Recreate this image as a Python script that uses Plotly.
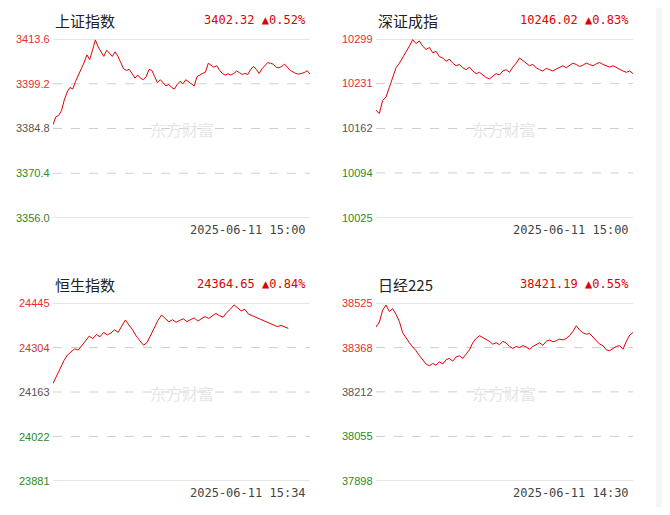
import plotly.graph_objects as go

W, H = 654, 499   # figure size; page body adds an 8px margin
OFF = 8

SH = [3386.0, 3388.5, 3389.0, 3390.5, 3394.0, 3396.5, 3398.0, 3397.5, 3400.0, 3402.0, 3403.5, 3406.0,
      3408.5, 3407.0, 3410.0, 3413.3, 3411.0, 3409.5, 3408.0, 3410.0, 3409.0, 3408.0, 3409.5, 3408.0,
      3406.0, 3404.0, 3403.5, 3403.8, 3402.5, 3401.0, 3402.0, 3401.0, 3400.5, 3401.5, 3403.8, 3403.5,
      3401.5, 3399.5, 3400.5, 3399.5, 3398.5, 3399.0, 3398.0, 3397.5, 3399.0, 3400.0, 3399.2, 3400.5,
      3399.8, 3399.0, 3398.5, 3401.5, 3402.0, 3402.3, 3403.0, 3405.8, 3405.0, 3404.5, 3405.0, 3403.5,
      3402.5, 3402.0, 3402.4, 3402.0, 3402.5, 3403.3, 3402.8, 3402.2, 3402.5, 3402.2, 3403.8, 3404.8,
      3403.8, 3402.5, 3404.0, 3405.0, 3406.0, 3405.8, 3405.5, 3404.5, 3404.3, 3404.8, 3405.5, 3404.5,
      3403.5, 3403.0, 3402.5, 3402.3, 3402.5, 3402.8, 3403.4, 3402.32]
SZ = [10190, 10185, 10205, 10210, 10225, 10240, 10255, 10262, 10270, 10280, 10288, 10298,
      10292, 10296, 10288, 10283, 10286, 10278, 10280, 10272, 10270, 10265, 10268, 10262,
      10258, 10260, 10255, 10252, 10256, 10250, 10246, 10248, 10244, 10240, 10238, 10242,
      10246, 10244, 10250, 10252, 10248, 10256, 10262, 10270, 10266, 10262, 10258, 10260,
      10255, 10252, 10250, 10254, 10252, 10250, 10253, 10256, 10258, 10255, 10258, 10262,
      10260, 10257, 10259, 10262, 10260, 10258, 10261, 10263, 10260, 10258, 10256, 10258,
      10255, 10252, 10250, 10248, 10250, 10246.02]
HSI = [24190, 24215, 24240, 24262, 24280, 24290, 24300, 24296, 24311, 24325, 24340, 24332,
       24345, 24338, 24352, 24344, 24350, 24360, 24352, 24372, 24391, 24375, 24360, 24340,
       24325, 24311, 24320, 24345, 24365, 24390, 24407, 24395, 24385, 24392, 24384, 24390,
       24395, 24386, 24392, 24398, 24388, 24395, 24402, 24396, 24404, 24412, 24405, 24400,
       24415, 24425, 24439, 24430, 24420, 24425, 24410, 24405, 24400, 24395, 24388, 24384,
       24380, 24375, 24370, 24374, 24368, 24364.65]
HSI_SLOTS = 72  # session length in samples, data ends before close
NK = [38440, 38458, 38500, 38518, 38495, 38505, 38485, 38460, 38420, 38400, 38385, 38370,
      38357, 38340, 38325, 38310, 38304, 38312, 38306, 38318, 38310, 38325, 38330, 38320,
      38335, 38339, 38330, 38345, 38360, 38385, 38400, 38410, 38404, 38398, 38390, 38380,
      38385, 38378, 38390, 38384, 38372, 38365, 38372, 38368, 38375, 38370, 38362, 38372,
      38380, 38385, 38376, 38390, 38395, 38388, 38392, 38398, 38395, 38400, 38410, 38425,
      38445, 38430, 38420, 38415, 38418, 38405, 38390, 38380, 38375, 38360, 38357, 38365,
      38372, 38375, 38362, 38390, 38412, 38421.19]

PANELS = [
    ("上证指数", "3402.32 ▲0.52%", "2025-06-11 15:00", SH, len(SH),
     [3413.6, 3399.2, 3384.8, 3370.4, 3356.0], ["3413.6", "3399.2", "3384.8", "3370.4", "3356.0"]),
    ("深证成指", "10246.02 ▲0.83%", "2025-06-11 15:00", SZ, len(SZ),
     [10299, 10231, 10162, 10094, 10025], ["10299", "10231", "10162", "10094", "10025"]),
    ("恒生指数", "24364.65 ▲0.84%", "2025-06-11 15:34", HSI, HSI_SLOTS,
     [24445, 24304, 24163, 24022, 23881], ["24445", "24304", "24163", "24022", "23881"]),
    ("日经225", "38421.19 ▲0.55%", "2025-06-11 14:30", NK, len(NK),
     [38525, 38368, 38212, 38055, 37898], ["38525", "38368", "38212", "38055", "37898"]),
]
# pixel boxes in window coords: (left, right, top, bottom)
BOXES = [(53, 310, 39, 218), (376, 633, 39, 218), (53, 310, 303, 481), (376, 633, 303, 481)]
TICK_COLORS = ["#e03030", "#e03030", "#555555", "#2a8a2a", "#2a8a2a"]
RED = "#e00000"


def px(x):
    return (x - OFF) / W


def py(y):
    return 1 - (y - OFF) / H


fig = go.Figure()
layout = {}
annotations = []
shapes = [dict(type="rect", xref="paper", yref="paper", x0=px(656), x1=1, y0=0, y1=1,
               fillcolor="#f4f5f7", line_width=0, layer="below")]

for i, (name, quote, stamp, vals, slots, tickvals, ticktext) in enumerate(PANELS):
    l, r, t, b = BOXES[i]
    n = "" if i == 0 else str(i + 1)
    xa, ya = "x" + n, "y" + n
    layout["xaxis" + n] = dict(domain=[px(l), px(r)], range=[0, slots - 1], visible=False,
                               anchor=ya, fixedrange=True)
    layout["yaxis" + n] = dict(domain=[py(b), py(t)], range=[tickvals[-1], tickvals[0]],
                               visible=False, anchor=xa, fixedrange=True)
    fig.add_trace(go.Scatter(x=list(range(len(vals))), y=vals, mode="lines",
                             line=dict(color=RED, width=1), xaxis=xa, yaxis=ya,
                             hoverinfo="y", showlegend=False))
    for j, (tv, tt) in enumerate(zip(tickvals, ticktext)):
        edge = j in (0, len(tickvals) - 1)
        shapes.append(dict(type="line", xref=xa + " domain", yref=ya, x0=0, x1=1, y0=tv, y1=tv,
                           line=dict(color="#cccccc" if edge else "#d0d0d0", width=1,
                                     dash="solid" if edge else "dash"), layer="below"))
        annotations.append(dict(xref="paper", yref=ya, x=px(l - 1), y=tv, text=tt,
                                showarrow=False, xanchor="right", yanchor="middle",
                                font=dict(size=11, color=TICK_COLORS[j], family="Liberation Sans")))
    annotations.append(dict(xref="paper", yref="paper", x=px(l), y=py(t - 19), text=name,
                            showarrow=False, xanchor="left", yanchor="middle",
                            font=dict(size=15, color="#222222", family="Noto Sans CJK SC")))
    annotations.append(dict(xref="paper", yref="paper", x=px(r - 2), y=py(t - 19),
                            text=quote, showarrow=False, xanchor="right", yanchor="middle",
                            font=dict(size=12, color=RED, family="DejaVu Sans Mono")))
    annotations.append(dict(xref="paper", yref="paper", x=px(r - 2), y=py(b + 3),
                            text=stamp, showarrow=False, xanchor="right", yanchor="top",
                            font=dict(size=12, color="#444444", family="DejaVu Sans Mono")))
    annotations.append(dict(xref="paper", yref="paper", x=px((l + r) / 2), y=py(t + 90),
                            text="东方财富", showarrow=False, xanchor="center", yanchor="middle",
                            font=dict(size=16, color="#e6e6e6", family="Noto Sans CJK SC")))

fig.update_layout(width=W, height=H, margin=dict(l=0, r=0, t=0, b=0),
                  paper_bgcolor="white", plot_bgcolor="rgba(0,0,0,0)",
                  annotations=annotations, shapes=shapes, **layout)
fig.write_html("out.html")
